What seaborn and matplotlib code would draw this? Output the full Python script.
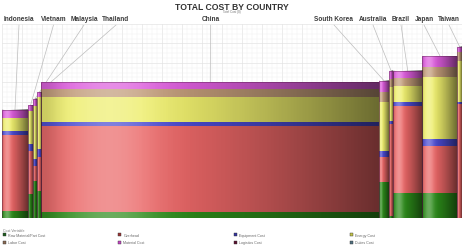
import numpy as np
import matplotlib
matplotlib.use("Agg")
import matplotlib.pyplot as plt
from matplotlib.patches import Patch, Rectangle
import seaborn as sns

# ---------------- data ----------------
countries = ["Indonesia", "Vietnam", "Malaysia", "Thailand", "China",
             "South Korea", "Australia", "Brazil", "Japan", "Taiwan"]
volume = [26, 5, 4, 4.5, 337.5, 10, 4, 29.5, 35, 4.5]

cost_vars = ["Raw Material/Part Cost", "Overhead", "Equipment Cost", "Energy Cost",
             "Labor Cost", "Material Cost", "Logistics Cost", "Duties Cost"]
raw_part  = [3.8, 12.4, 19.2, 14.1, 2.9, 18.4, 1.2, 12.9, 12.9, 0.0]
overhead  = [39.0, 22.3, 7.4, 17.2, 44.6, 12.9, 47.3, 44.7, 24.4, 58.8]
equipment = [2.2, 3.5, 3.8, 4.3, 1.8, 3.4, 1.7, 2.4, 3.5, 0.9]
energy    = [6.4, 17.2, 27.5, 26.6, 12.9, 24.9, 17.4, 7.9, 31.8, 21.4]
labor     = [0.0, 0.0, 0.0, 0.0, 4.3, 5.2, 4.1, 4.1, 5.2, 4.5]
material  = [4.4, 2.6, 3.5, 2.6, 3.5, 6.0, 4.3, 3.9, 5.7, 2.6]
logistics = [0.0, 0.0, 0.0, 0.0, 0.0, 0.0, 0.0, 0.0, 0.0, 0.0]
duties    = [0.0, 0.0, 0.0, 0.0, 0.0, 0.0, 0.0, 0.0, 0.0, 0.0]
series = [raw_part, overhead, equipment, energy, labor, material, logistics, duties]

# ---------------- style ----------------
sns.set_theme(style="white")
plt.rcParams["font.family"] = ["Liberation Sans", "DejaVu Sans"]
colors = sns.color_palette(["#2c8a1a", "#ea6666", "#4a4ad0", "#eeee6c",
                            "#c09a78", "#dc5cdc", "#702030", "#5f8090"])
legend_colors = sns.color_palette(["#1e5e1e", "#9a3434", "#34349e", "#c4c448",
                                   "#8a6a52", "#c444c4", "#5a1030", "#507080"])

label_x = [17, 51.5, 82, 114, 208.5, 332, 371, 399, 422, 447]  # label centers (axis units)
legend_col_x = [3, 118, 234, 350]  # legend column positions (pixels)

fig = plt.figure(figsize=(4.64, 2.53), dpi=100)
ax = fig.add_axes([2 / 464, (253 - 219) / 253, 460 / 464, (219 - 25) / 253])

total_w = float(np.sum(volume))
lefts = np.concatenate([[0], np.cumsum(volume)[:-1]])
bottoms = np.zeros(len(countries))
for vals, c in zip(series, colors):
    ax.bar(lefts, vals, width=volume, bottom=bottoms, align="edge",
           color=c, linewidth=0, zorder=2)
    bottoms = bottoms + np.array(vals)
tops = bottoms

# cylinder shading
N = 96
t = np.linspace(0, 1, N)
white_a = 0.30 * np.exp(-((t - 0.2) / 0.14) ** 2)
black_a = 0.55 * np.clip((t - 0.28) / 0.72, 0, 1) ** 1.3 + 0.15 * np.exp(-(t / 0.05) ** 2)
white_img = np.zeros((1, N, 4)); white_img[..., :3] = 1.0; white_img[0, :, 3] = white_a
black_img = np.zeros((1, N, 4)); black_img[0, :, 3] = black_a
for l, w, h in zip(lefts, volume, tops):
    ext = (l, l + w, 0, h)
    ax.imshow(white_img, extent=ext, aspect="auto", interpolation="bilinear",
              origin="lower", zorder=3)
    ax.imshow(black_img, extent=ext, aspect="auto", interpolation="bilinear",
              origin="lower", zorder=3)
    ax.add_patch(Rectangle((l, 0), w, h, fill=False, edgecolor="#4a1a3c",
                           linewidth=0.45, alpha=0.6, zorder=4))

ax.set_xlim(0, total_w)
ax.set_ylim(0, 100)

# fine grid
ax.set_xticks(np.arange(0, total_w + 1, 20))
ax.set_xticks(np.arange(0, total_w + 1, 5), minor=True)
ax.set_yticks(np.arange(0, 101, 10))
ax.set_yticks(np.arange(0, 101, 2.5), minor=True)
ax.grid(True, which="major", color="#e2e2e2", linewidth=0.45, zorder=0)
ax.grid(True, which="minor", color="#efefef", linewidth=0.35, zorder=0)
ax.set_axisbelow(True)
ax.tick_params(which="both", length=0, labelbottom=False, labelleft=False)
for s in ax.spines.values():
    s.set_visible(False)

# country labels and leader lines
for name, lx, l, w, h in zip(countries, label_x, lefts, volume, tops):
    ax.text(lx, 103, name, ha="center", va="center", fontsize=4.7,
            fontweight="bold", color="#3c3c3c", clip_on=False)
    ax.plot([lx, l + w / 2], [99.5, h], color="#bdbdbd", linewidth=0.5,
            zorder=1, clip_on=False)

fig.text(0.5, 1 - 7 / 253, "TOTAL COST BY COUNTRY", ha="center", va="center",
         fontsize=6.2, fontweight="bold", color="#333333")
fig.text(0.5, 1 - 12.5 / 253, "Total Cost ($)", ha="center", va="center",
         fontsize=2.2, color="#777777")

# legend: 4 columns, filled row by row
fig.text(3 / 464, 1 - 231 / 253, "Cost Variable", ha="left", va="center",
         fontsize=2.6, color="#777777")
for k, px in enumerate(legend_col_x):
    idx = [k, k + 4]
    hs = [Patch(facecolor=legend_colors[i], edgecolor="#333333", linewidth=0.3) for i in idx]
    fig.legend(hs, [cost_vars[i] for i in idx], loc="upper left",
               bbox_to_anchor=(px / 464, 1 - 234 / 253), frameon=False,
               fontsize=2.6, handlelength=0.9, handleheight=0.9,
               handletextpad=0.6, labelspacing=0.9, borderaxespad=0,
               borderpad=0, labelcolor="#666666")

fig.savefig("out.png", dpi=100, facecolor="white")
